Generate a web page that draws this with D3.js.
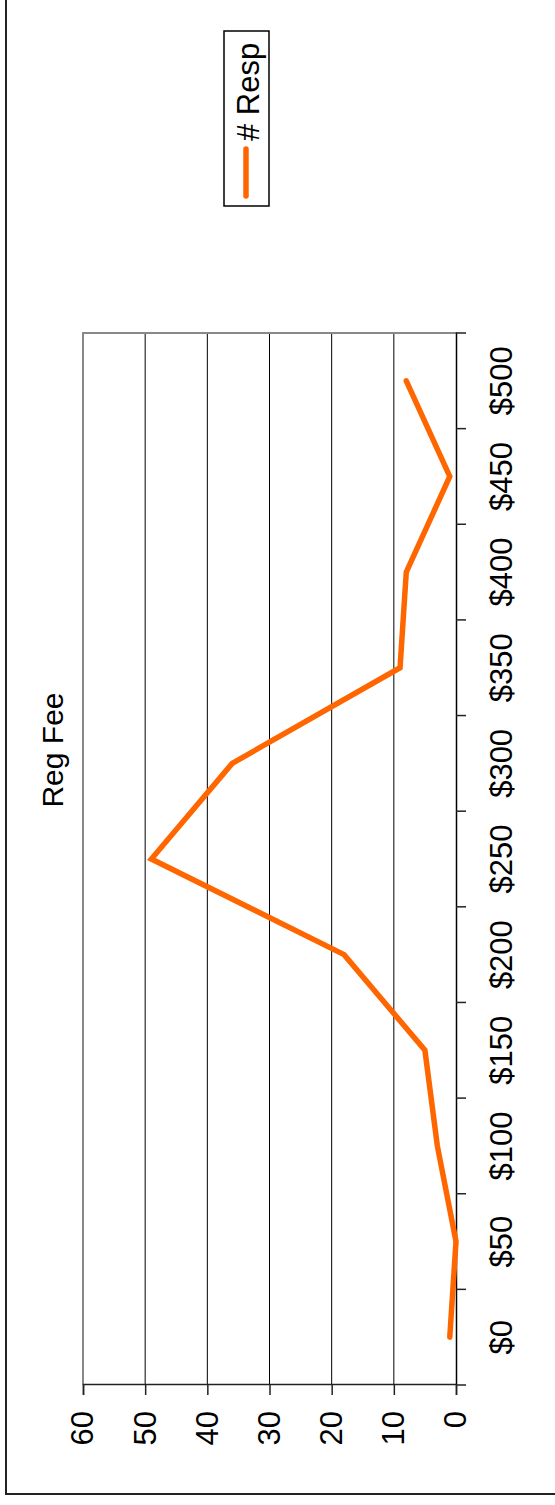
<!DOCTYPE html>
<html>
<head>
<meta charset="utf-8">
<script src="https://cdn.jsdelivr.net/npm/d3@7"></script>
<style>
  html, body { margin: 0; padding: 0; background: #fff; }
  svg { display: block; font-family: "Liberation Sans", Arial, sans-serif; }
</style>
</head>
<body>
<svg id="chart" width="555" height="1505"></svg>
<script>
// Reg Fee line chart (drawn landscape, then turned a quarter left)
const categories = ['$0', '$50', '$100', '$150', '$200', '$250', '$300', '$350', '$400', '$450', '$500'];
const responses = [1, 0, 3, 5, 18, 49, 36, 9, 8, 1, 8];
const valueTicks = [0, 10, 20, 30, 40, 50, 60];
const seriesName = '# Resp';
const title = 'Reg Fee';

const W = 1505, H = 555;
const plot = { left: 120, right: 1172, top: 83, bottom: 456 };
const orange = '#ff6600';

const svg = d3.select('#chart');
const root = svg.append('g')
  .attr('transform', `translate(0,${W}) rotate(-90)`);

// outer chart frame
root.append('rect')
  .attr('x', 11).attr('y', 6)
  .attr('width', W + 20).attr('height', H + 20)
  .attr('fill', 'none')
  .attr('stroke', '#222')
  .attr('stroke-width', 2);

const x = d3.scaleBand()
  .domain(categories)
  .range([plot.left, plot.right])
  .padding(0);

const y = d3.scaleLinear()
  .domain([0, 60])
  .range([plot.bottom, plot.top]);

// gridlines
root.append('g')
  .selectAll('line')
  .data(valueTicks.filter(v => v > 0 && v < 60))
  .enter()
  .append('line')
  .attr('x1', plot.left).attr('x2', plot.right)
  .attr('y1', d => y(d)).attr('y2', d => y(d))
  .attr('stroke', '#000')
  .attr('stroke-width', 1);

// plot frame (grey)
root.append('path')
  .attr('d', `M${plot.left},${plot.top}H${plot.right}V${plot.bottom}`)
  .attr('fill', 'none')
  .attr('stroke', '#888')
  .attr('stroke-width', 2);

// value axis
const yAxis = root.append('g')
  .attr('transform', `translate(${plot.left},0)`)
  .call(d3.axisLeft(y).tickValues(valueTicks).tickSize(10).tickPadding(16));
yAxis.select('.domain').attr('stroke', '#222').attr('stroke-width', 1.5);
yAxis.selectAll('.tick line').attr('stroke', '#222').attr('stroke-width', 1.5);
yAxis.selectAll('text')
  .style('font-size', '31px')
  .attr('fill', '#000');

// category axis
const xAxis = root.append('g')
  .attr('transform', `translate(0,${plot.bottom})`)
  .call(d3.axisBottom(x).tickSize(0).tickPadding(34));
xAxis.select('.domain').attr('stroke', '#000').attr('stroke-width', 1.5);
xAxis.selectAll('text')
  .style('font-size', '31px')
  .attr('fill', '#000');

const boundaries = categories.map(c => x(c)).concat([x.range()[1]]);
xAxis.selectAll('.bound')
  .data(boundaries)
  .enter()
  .append('line')
  .attr('class', 'bound')
  .attr('x1', d => d).attr('x2', d => d)
  .attr('y1', 0).attr('y2', 10)
  .attr('stroke', '#222')
  .attr('stroke-width', 1.5);

// series line
const line = d3.line()
  .x((d, i) => x(categories[i]) + x.bandwidth() / 2)
  .y(d => y(d));

root.append('path')
  .datum(responses)
  .attr('d', line)
  .attr('fill', 'none')
  .attr('stroke', orange)
  .attr('stroke-width', 5.5)
  .attr('stroke-linecap', 'round')
  .attr('stroke-linejoin', 'miter');

// title
root.append('text')
  .attr('x', 755).attr('y', 63)
  .attr('text-anchor', 'middle')
  .style('font-size', '30px')
  .text(title);

// legend
const legend = root.append('g');
legend.append('rect')
  .attr('x', 1299).attr('y', 224)
  .attr('width', 175).attr('height', 45)
  .attr('fill', '#fff')
  .attr('stroke', '#000')
  .attr('stroke-width', 1.5);
legend.append('line')
  .attr('x1', 1309).attr('x2', 1356)
  .attr('y1', 246).attr('y2', 246)
  .attr('stroke', orange)
  .attr('stroke-width', 5.5)
  .attr('stroke-linecap', 'round');
legend.append('text')
  .attr('x', 1364).attr('y', 259)
  .style('font-size', '31px')
  .text(seriesName);
</script>
</body>
</html>
